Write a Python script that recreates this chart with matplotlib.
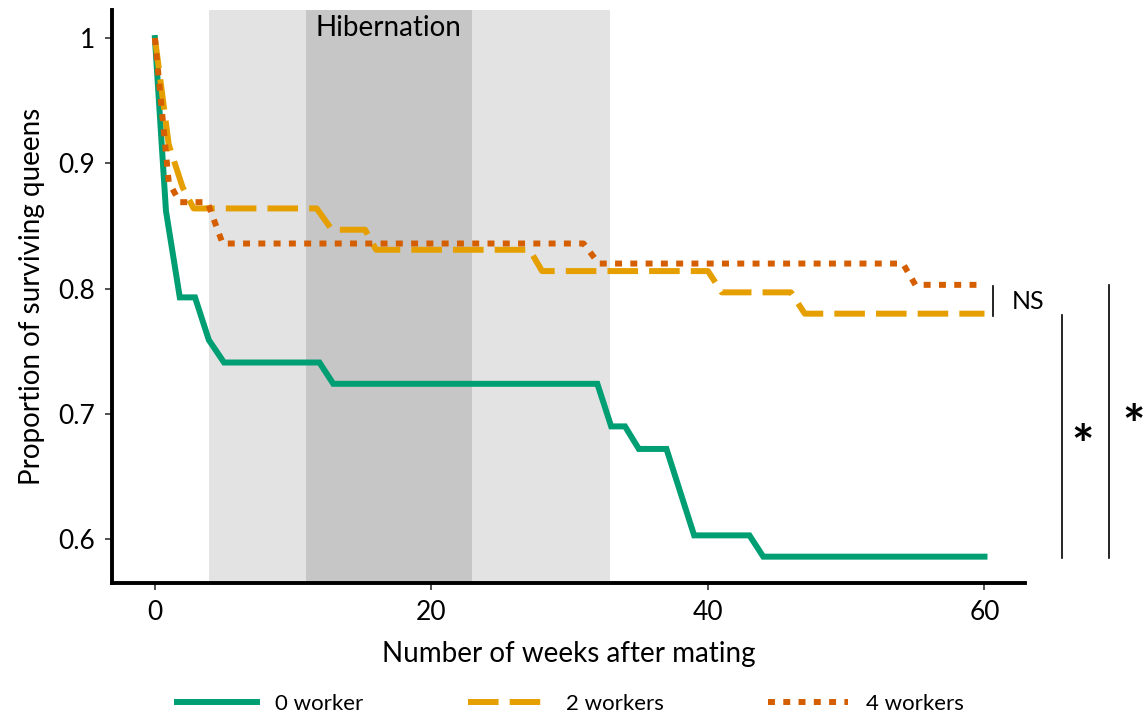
import numpy as np
import matplotlib
matplotlib.use("Agg")
import matplotlib.pyplot as plt

plt.rcParams['font.family'] = ['Lato', 'DejaVu Sans']
plt.rcParams['lines.scale_dashes'] = False

# survival curves (weeks, proportion)
weeks_0 = [0, 0.8, 1.8, 2.9, 3.9, 5.0, 11.9, 12.9, 32.0, 33.0, 34.0, 35.0, 37.0, 39.0, 43.0, 44.0, 60]
surv_0 = [1.0, 0.862, 0.793, 0.793, 0.759, 0.741, 0.741, 0.724, 0.724, 0.690, 0.690, 0.672, 0.672, 0.603, 0.603, 0.586, 0.586]

weeks_2 = [0, 1.0, 2.0, 2.8, 11.7, 12.8, 15.2, 16.0, 27.1, 28.0, 40.0, 41.0, 46.0, 47.0, 60]
surv_2 = [1.0, 0.915, 0.881, 0.864, 0.864, 0.847, 0.847, 0.831, 0.831, 0.814, 0.814, 0.797, 0.797, 0.780, 0.780]

weeks_4 = [0, 1.0, 1.8, 3.8, 4.9, 31.0, 32.1, 54.1, 55.0, 60]
surv_4 = [1.0, 0.885, 0.869, 0.869, 0.836, 0.836, 0.820, 0.820, 0.803, 0.803]

labels = ['0 worker', '2 workers', '4 workers']
colors = ['#009E73', '#E69F00', '#D55E00']

# shaded periods
outside_span = (3.9, 32.9)
hib_span = (10.9, 22.9)

fig = plt.figure(figsize=(11.48, 7.16), dpi=100)
ax = fig.add_axes([0.0976, 0.1858, 0.7955, 0.8002])

ax.axvspan(*outside_span, color='#E3E3E3', lw=0, zorder=0)
ax.axvspan(*hib_span, color='#C6C6C6', lw=0, zorder=0)
ax.text(np.mean(hib_span), 1.008, 'Hibernation', ha='center', va='center', fontsize=20)

ax.plot(weeks_0, surv_0, color=colors[0], lw=4.3, solid_joinstyle='miter', label=labels[0], zorder=3)
ax.plot(weeks_2, surv_2, color=colors[1], lw=4.3, linestyle=(0, (22, 8)), dash_capstyle='butt', label=labels[1], zorder=4)
ax.plot(weeks_4, surv_4, color=colors[2], lw=4.3, linestyle=(0, (5, 6)), dash_capstyle='butt', label=labels[2], zorder=5)

ax.set_xlim(-3.1, 62.95)
ax.set_ylim(0.565, 1.0224)
ax.set_xticks([0, 20, 40, 60])
ax.set_yticks([0.6, 0.7, 0.8, 0.9, 1.0])
ax.set_yticklabels(['0.6', '0.7', '0.8', '0.9', '1'])
ax.tick_params(labelsize=19, length=5, width=1.2, color='#333333')
ax.tick_params(axis='y', pad=7)
ax.tick_params(axis='x', pad=7)
for s in ['top', 'right']:
    ax.spines[s].set_visible(False)
for s in ['left', 'bottom']:
    ax.spines[s].set_linewidth(2.8)

ax.set_xlabel('Number of weeks after mating', fontsize=20, labelpad=12)
ax.set_ylabel('Proportion of surviving queens', fontsize=20, labelpad=10)

# significance bars
ax.plot([60.6, 60.6], [0.778, 0.802], color='black', lw=1.2, clip_on=False)
ax.text(62.0, 0.790, 'NS', fontsize=18, va='center', ha='left')
ax.plot([65.6, 65.6], [0.585, 0.779], color='black', lw=1.2, clip_on=False)
ax.text(67.1, 0.672, '*', fontsize=38, va='center', ha='center', fontweight='bold')
ax.plot([69.0, 69.0], [0.585, 0.803], color='black', lw=1.2, clip_on=False)
ax.text(70.8, 0.688, '*', fontsize=38, va='center', ha='center', fontweight='bold')

fig.legend(loc='lower center', bbox_to_anchor=(0.497, -0.025), ncol=3, frameon=False,
           fontsize=16, handlelength=3.6, columnspacing=4.7, handletextpad=0.8)

fig.savefig('out.png', dpi=100)
